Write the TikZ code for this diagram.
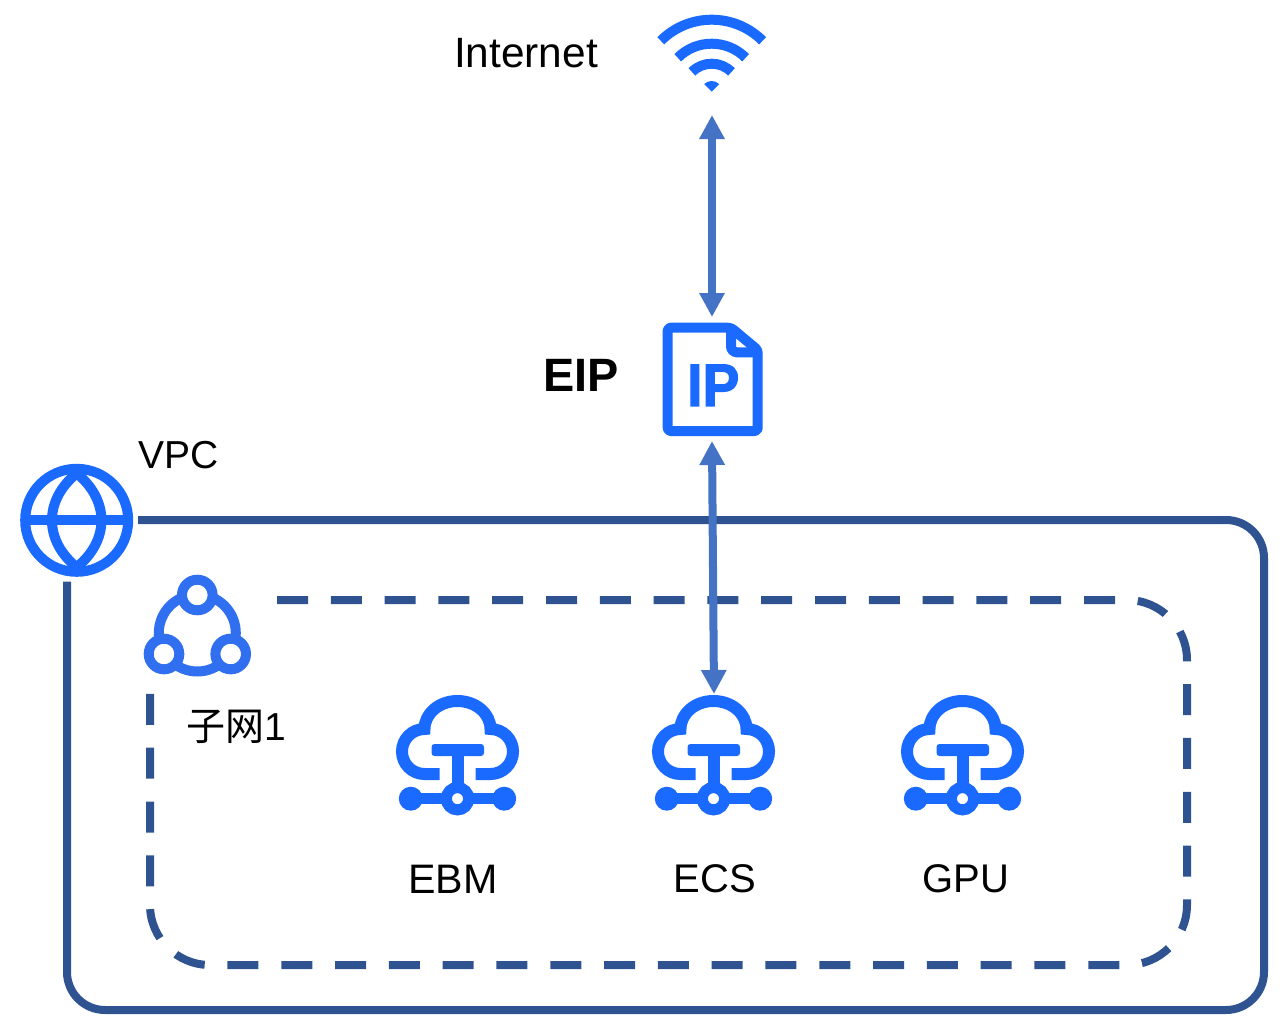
\documentclass[tikz,border=0pt]{standalone}
\usepackage{fontspec}
\setmainfont{Liberation Sans}
\newfontfamily\cjk{Noto Sans CJK SC}
\newfontfamily\ipfont[FakeBold=2]{Liberation Sans Bold}
\usetikzlibrary{arrows.meta}
\definecolor{iconblue}{HTML}{1A6AFF}
\definecolor{subnetblue}{HTML}{2F6FF0}
\definecolor{framecol}{HTML}{2F5391}
\definecolor{arrowcol}{HTML}{4472C4}
\tikzset{%
    iconbox/.style={inner sep=0pt, outer sep=0pt},
    label/.style={inner sep=0pt, font=\fontsize{20}{24}\selectfont},
    vpcline/.style={line width=4pt, color=framecol, rounded corners=19pt},
    subnetline/.style={line width=4pt, color=framecol, rounded corners=30pt, dash pattern=on 15.5pt off 11.4pt},
    link/.style={line width=4pt, color=arrowcol, {Triangle[length=12pt,width=12pt]}-{Triangle[length=12pt,width=12pt]}},
    pics/cloudnet/.style={code={
        \draw[iconblue, line width=6pt] (-18,19) -- (-33,19)
            arc[start angle=90, end angle=270, radius=22.5]
            arc[start angle=180, end angle=360, x radius=33, y radius=28]
            arc[start angle=-90, end angle=90, radius=22.5] -- (18,19);
        \fill[iconblue, rounded corners=1.5pt] (-26,-11) rectangle (26.5,1);
        \fill[iconblue] (-6,0) rectangle (6,35);
        \draw[iconblue, line width=5.5pt] (-46.7,43.7) -- (46.7,43.7);
        \fill[iconblue] (-46.7,43.7) circle (12) (46.7,43.7) circle (12);
        \draw[iconblue, line width=5.5pt, fill=white] (0,43.7) circle (11.2);
    }},
}

\begin{document}
\begin{tikzpicture}[x=0.5pt, y=-0.5pt]
	\useasboundingbox (0,0) rectangle (1282,1028);

	% icon boxes
	\node[iconbox, minimum width=55pt, minimum height=55pt] (wifi) at (712,60) {};
	\node[iconbox, minimum width=50pt, minimum height=62pt] (eip) at (712,379) {};
	\node[iconbox, minimum width=61.3pt, minimum height=61.7pt] (globe) at (76.7,520) {};
	\node[iconbox, minimum width=56pt, minimum height=52pt] (subnet) at (197.3,626) {};
	\node[iconbox, minimum width=60pt, minimum height=61pt] (ebm) at (457.5,755) {};
	\node[iconbox, minimum width=60pt, minimum height=61pt] (ecs) at (714,755) {};
	\node[iconbox, minimum width=60pt, minimum height=61pt] (gpu) at (962.5,755) {};

	% vpc frame
	\draw[vpcline] (globe.east) -- (1264,520) -- (1264,1010) -- (67,1010) -- ([xshift=-4.85pt]globe.south);

	% subnet frame
	\draw[subnetline] (277,600) -- (1187,600) -- (1187,965) -- (150,965) -- (150,692);

	% wifi
	\begin{scope}[shift={(711.7,91.7)}, iconblue, line width=5pt]
		\draw (225:72) arc[start angle=225, end angle=315, radius=72];
		\draw (225:48) arc[start angle=225, end angle=315, radius=48];
		\draw (225:28) arc[start angle=225, end angle=315, radius=28];
		\fill (0,0) -- (225:10.7) arc[start angle=225, end angle=315, radius=10.7] -- cycle;
	\end{scope}

	% ip document
	\draw[iconblue, line width=5pt, rounded corners=1.5pt, line join=round] (667.7,327.7) -- (731,327.7) -- (757.7,350) -- (757.7,431) -- (667.7,431) -- cycle;
	\draw[iconblue, line width=5pt, rounded corners=3pt] (731,327.7) -- (731,352.3) -- (757.7,352.3);
	\node[inner sep=0pt, text=iconblue, xscale=0.92, font=\fontsize{30}{36}\selectfont\ipfont] (iptext) at (713.3,385.3) {IP};

	% globe
	\begin{scope}[shift={(76.7,520.3)}, iconblue, line width=5pt]
		\draw (0,0) circle (51.5);
		\draw (-51,0) -- (51,0);
		\draw (0,-47) .. controls (-33,-20) and (-33,20) .. (0,47);
		\draw (0,-47) .. controls (33,-20) and (33,20) .. (0,47);
	\end{scope}

	% subnet icon
	\begin{scope}[subnetblue, line width=5pt]
		\draw (197.3,633) circle (38.5);
		\draw[fill=white] (197.3,595) circle (15.3);
		\draw[fill=white] (164,654) circle (15.3);
		\draw[fill=white] (230.7,654) circle (15.3);
	\end{scope}

	% clouds
	\pic at (ebm.center) {cloudnet};
	\pic at ([xshift=-0.25pt]ecs.center) {cloudnet};
	\pic at (gpu.center) {cloudnet};

	% links
	\draw[link] (wifi.south) -- (eip.north);
	\draw[link] (eip.south) -- (ecs.north);

	% labels
	\node[label, font=\fontsize{21.2}{26}\selectfont] (internet) at (526,53) {Internet};
	\node[label, font=\fontsize{23.4}{28}\selectfont\bfseries] (eiplabel) at (581,375) {EIP};
	\node[label, font=\fontsize{19.5}{24}\selectfont] (vpc) at (179,455) {VPC};
	\node[label, font=\fontsize{19.5}{24}\selectfont] (subnetlabel) at (236.5,727) {{\cjk 子网}1};
	\node[label, font=\fontsize{20.6}{24}\selectfont] (ebmlabel) at (453,879) {EBM};
	\node[label] (ecslabel) at (715,879) {ECS};
	\node[label] (gpulabel) at (966,879) {GPU};
\end{tikzpicture}
\end{document}
